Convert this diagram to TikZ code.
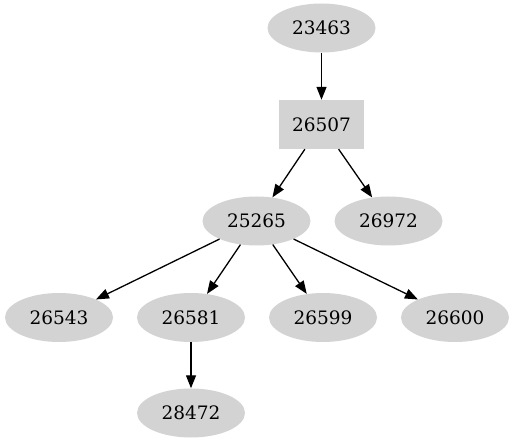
\documentclass[tikz,border=0pt]{standalone}
\usepackage{fontspec}
\setmainfont{DejaVu Serif}
\usepackage{xcolor}
\usepackage{tikz}
\usetikzlibrary{arrows.meta,positioning,shapes.geometric}
\definecolor{nodegray}{HTML}{D3D3D3}
\tikzset{
  oval/.style={
    ellipse,draw=none,fill=nodegray,inner sep=0pt,
    minimum width=108pt,minimum height=49pt,
    font=\fontsize{18.5}{22}\selectfont
  },
  rect/.style={
    rectangle,draw=none,fill=nodegray,inner sep=0pt,
    minimum width=85pt,minimum height=49pt,
    font=\fontsize{18.5}{22}\selectfont
  },
  arrow/.style={-{Triangle[length=13pt,width=10pt]},draw=black,line width=1.3pt}
}
\begin{document}
\begin{tikzpicture}[x=1pt,y=-1pt]
\useasboundingbox (0,0) rectangle (514,443);

\node[oval] (n23463) at (321.5,28) {23463};
\node[rect] (n26507) at (321.5,124.5) {26507};
\node[oval] (n25265) at (256.5,221) {25265};
\node[oval] (n26972) at (388.5,221) {26972};
\node[oval] (n26543) at (59,317.5) {26543};
\node[oval] (n26581) at (191,317.5) {26581};
\node[oval] (n26599) at (323,317.5) {26599};
\node[oval] (n26600) at (455,317.5) {26600};
\node[oval] (n28472) at (191,413) {28472};

\draw[arrow] (n23463)--(n26507);
\draw[arrow] (n26507)--(n25265);
\draw[arrow] (n26507)--(n26972);
\draw[arrow] (n25265)--(n26543);
\draw[arrow] (n25265)--(n26581);
\draw[arrow] (n25265)--(n26599);
\draw[arrow] (n25265)--(n26600);
\draw[arrow] (n26581)--(n28472);
\end{tikzpicture}
\end{document}
